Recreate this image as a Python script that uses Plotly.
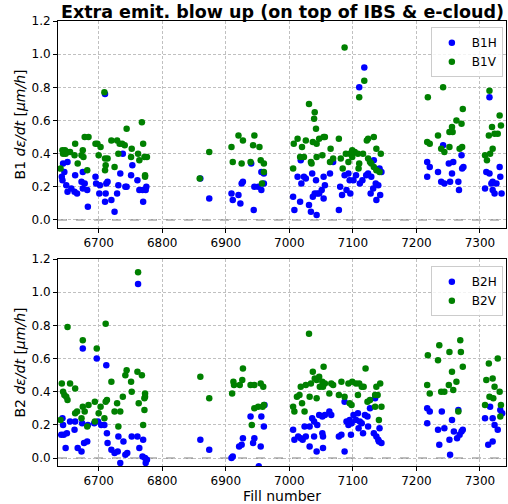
import plotly.graph_objects as go

# ---------------- data ----------------
b1h_fill = [6710,6738,6651,6644,6753,6646,6675,6734,6663,6642,6643,6695,6751,6761,6649,6657,6651,6662,6666,6673,
            6678,6675,6682,6696,6702,6712,6714,6731,6742,6744,6701,6711,6729,6764,6769,6774,6775,6720,6710,6770,
            6683,6725,6860,6874,6909,6911,6920,6923,6925,6927,6944,6940,6956,6960,6945,6951,6956,6960,
            7118,7110,7018,7069,7133,7145,7142,7013,7019,7023,7026,7036,7042,7054,7064,7056,7037,7040,7044,7047,
            7051,7054,7006,7017,7008,7031,7034,7043,7078,7080,7083,7087,7093,7095,7101,7105,7090,7096,7111,7115,
            7121,7124,7129,7128,7132,7136,7140,7137,7143,7217,7221,7217,7234,7239,7244,7242,7251,7256,7253,7258,
            7266,7267,7271,7272,7274,7315,7310,7315,7320,7318,7331,7332,7308,7320,7326,7334,7323]
b1h_val = [0.76,0.40,0.35,0.34,0.33,0.29,0.29,0.28,0.27,0.26,0.24,0.26,0.27,0.24,0.21,0.19,0.17,0.17,0.16,0.23,
           0.22,0.19,0.18,0.22,0.21,0.22,0.23,0.21,0.20,0.20,0.16,0.16,0.16,0.18,0.18,0.18,0.20,0.12,0.11,0.11,
           0.08,0.05,0.25,0.13,0.16,0.12,0.15,0.10,0.22,0.23,0.06,0.34,0.29,0.28,0.20,0.20,0.18,0.22,
           0.92,0.80,0.36,0.35,0.36,0.29,0.31,0.26,0.22,0.26,0.25,0.28,0.24,0.26,0.28,0.21,0.14,0.16,0.16,0.16,
           0.18,0.13,0.14,0.11,0.06,0.09,0.05,0.03,0.06,0.20,0.15,0.27,0.28,0.24,0.24,0.27,0.18,0.16,0.22,0.24,
           0.27,0.28,0.26,0.16,0.19,0.22,0.21,0.12,0.15,0.35,0.32,0.26,0.29,0.23,0.22,0.45,0.34,0.28,0.23,0.35,
           0.23,0.18,0.39,0.31,0.32,0.74,0.29,0.28,0.23,0.22,0.32,0.26,0.19,0.18,0.22,0.16,0.16]

b1v_fill = [6709,6768,6744,6678,6684,6663,6695,6698,6703,6720,6729,6733,6737,6741,6752,6770,6675,6643,6647,6651,
            6655,6644,6648,6662,6673,6676,6700,6731,6762,6751,6764,6772,6776,6710,6714,6711,6710,6725,6667,6640,
            6682,6773,6773,6859,6874,6909,6920,6927,6945,6943,6953,6911,6925,6939,6955,6960,6960,6957,
            7087,7118,7110,7031,7040,7039,7042,7007,7013,7020,7026,7037,7043,7047,7054,7056,7065,7078,
            7017,7023,7034,7043,7052,7064,7069,7081,7006,7035,7089,7095,7099,7103,7108,7116,
            7084,7093,7099,7110,7109,7122,7124,7133,7137,7144,7124,7127,7129,7133,7137,7142,
            7218,7242,7273,7263,7271,7256,7252,7257,7234,7217,7221,7239,7244,7252,7268,7272,
            7315,7331,7333,7319,7314,7323,7328,7320,7308,7316,7311]
b1v_val = [0.77,0.59,0.55,0.50,0.50,0.46,0.46,0.46,0.44,0.48,0.48,0.46,0.46,0.45,0.43,0.46,0.42,0.42,0.42,0.41,
           0.41,0.40,0.40,0.39,0.39,0.38,0.39,0.40,0.40,0.38,0.36,0.38,0.38,0.37,0.37,0.33,0.30,0.32,0.34,0.31,
           0.30,0.27,0.26,0.25,0.41,0.44,0.51,0.48,0.51,0.45,0.44,0.35,0.34,0.35,0.36,0.34,0.29,0.22,
           1.04,0.84,0.74,0.70,0.65,0.61,0.55,0.46,0.49,0.44,0.48,0.47,0.46,0.49,0.50,0.50,0.43,0.49,
           0.38,0.38,0.35,0.38,0.39,0.35,0.37,0.37,0.31,0.34,0.40,0.40,0.42,0.41,0.40,0.40,
           0.31,0.35,0.38,0.34,0.31,0.48,0.49,0.50,0.43,0.40,0.37,0.35,0.34,0.32,0.30,0.29,
           0.74,0.80,0.67,0.60,0.58,0.56,0.53,0.53,0.51,0.47,0.46,0.43,0.41,0.44,0.43,0.44,
           0.78,0.63,0.57,0.56,0.51,0.52,0.52,0.43,0.39,0.40,0.36]

b2h_fill = [6762,6675,6697,6712,6643,6644,6655,6663,6674,6683,6693,6699,6704,6709,6641,6645,6650,6662,6648,6667,
            6673,6677,6682,6713,6714,6731,6739,6752,6761,6770,6720,6725,6730,6734,6742,6745,6764,6769,6773,6776,
            6774,6860,6874,6909,6911,6921,6925,6927,6939,6943,6945,6956,6960,6961,6955,6952,
            7087,7135,7006,7008,7024,7032,7014,7018,7021,7026,7036,7039,7044,7047,7052,7056,7063,7066,7032,7043,
            7053,7039,7052,7053,7078,7082,7087,7090,7093,7095,7098,7101,7105,7108,7111,7114,7097,7109,7116,7119,
            7123,7124,7127,7133,7137,7140,7142,7145,7141,7217,7221,7217,7240,7244,7234,7236,7256,7252,7253,7259,
            7264,7268,7271,7273,7266,7308,7316,7320,7323,7328,7332,7335,7313,7320]
b2h_val = [1.05,0.66,0.60,0.56,0.24,0.20,0.22,0.22,0.21,0.20,0.21,0.22,0.20,0.20,0.14,0.14,0.15,0.17,0.06,0.06,
           0.04,0.09,0.10,0.15,0.09,0.13,0.10,0.13,0.13,0.11,0.05,0.03,0.04,-0.03,0.02,0.03,0.06,0.01,0.00,-0.01,
           -0.03,0.11,0.05,0.00,0.01,0.07,0.08,0.12,0.25,0.09,0.12,0.25,0.19,0.32,0.07,-0.05,
           0.34,0.36,0.17,0.11,0.19,0.19,0.13,0.12,0.11,0.13,0.24,0.22,0.20,0.26,0.25,0.26,0.28,0.26,0.07,0.04,
           0.06,0.13,0.15,0.13,0.13,0.14,0.04,0.22,0.20,0.23,0.21,0.26,0.23,0.27,0.22,0.21,0.14,0.18,0.15,0.26,
           0.25,0.19,0.30,0.15,0.13,0.11,0.18,0.09,0.10,0.30,0.28,0.21,0.28,0.18,0.17,0.08,0.23,0.11,0.02,0.16,
           0.12,0.14,0.16,0.17,0.29,0.24,0.31,0.24,0.20,0.17,0.29,0.27,0.08,0.10]

b2v_fill = [6762,6651,6711,6675,6697,6744,6742,6751,6761,6768,6720,6642,6655,6663,6644,6646,6649,6651,6752,6713,
            6711,6694,6738,6729,6763,6773,6773,6772,6772,6675,6684,6678,6666,6663,6703,6725,6734,6700,6673,6682,
            6709,6731,6770,6694,6640,6860,6874,6927,6912,6913,6910,6922,6926,6939,6945,6955,6959,6945,6951,6958,
            6960,6941,
            7031,7120,7054,7037,7040,7043,7047,7018,7026,7034,7052,7056,7048,7053,7066,7069,7082,7093,7099,7105,
            7110,7114,7117,7143,7137,7012,7016,7032,7043,7063,7078,7087,7108,7095,7098,7123,7127,7135,7139,7006,
            7008,7020,7024,7135,7145,7141,7218,7236,7252,7269,7270,7273,7234,7256,7217,7221,7239,7244,7258,7263,
            7251,7266,7328,7314,7310,7320,7323,7331,7315,7321,7308,7333,7332]
b2v_val = [1.12,0.79,0.81,0.71,0.66,0.53,0.50,0.46,0.52,0.50,0.46,0.45,0.45,0.42,0.40,0.38,0.37,0.35,0.40,0.35,
           0.34,0.34,0.37,0.33,0.33,0.37,0.39,0.36,0.29,0.31,0.32,0.28,0.28,0.27,0.31,0.28,0.28,0.27,0.24,0.19,
           0.24,0.19,0.20,0.22,0.23,0.49,0.36,0.54,0.46,0.44,0.39,0.44,0.47,0.44,0.44,0.45,0.43,0.30,0.31,0.31,
           0.32,0.20,
           0.75,0.54,0.55,0.52,0.48,0.47,0.49,0.43,0.44,0.45,0.46,0.45,0.43,0.43,0.45,0.44,0.46,0.45,0.46,0.45,
           0.45,0.43,0.43,0.45,0.43,0.37,0.38,0.37,0.36,0.39,0.38,0.37,0.38,0.33,0.32,0.34,0.35,0.38,0.38,0.31,
           0.28,0.33,0.28,0.31,0.31,0.23,0.62,0.68,0.64,0.71,0.64,0.55,0.59,0.52,0.44,0.39,0.40,0.40,0.41,0.46,
           0.44,0.28,0.60,0.57,0.47,0.48,0.43,0.40,0.37,0.36,0.32,0.32,0.25]

x_ticks = [6700, 6800, 6900, 7000, 7100, 7200, 7300]
y_ticks = [0.0, 0.2, 0.4, 0.6, 0.8, 1.0, 1.2]

title_text = "Extra emit. blow up (on top of IBS &amp; e-cloud)"
xlabel = "Fill number"
ylabel_top = "B1 <i>dε/dt</i> [<i>μm/h</i>]"
ylabel_bot = "B2 <i>dε/dt</i> [<i>μm/h</i>]"

# ---------------- figure ----------------
FONT = "DejaVu Sans"
BLUE = "#0000ff"
GREEN = "#008000"

fig = go.Figure()

def add(x, y, name, color, xa, ya, legend):
    fig.add_trace(go.Scatter(x=x, y=y, mode="markers", name=name,
                             marker=dict(color=color, size=6.5, line=dict(width=0)),
                             xaxis=xa, yaxis=ya, legend=legend))

add(b1h_fill, b1h_val, "B1H", BLUE, "x", "y", "legend")
add(b1v_fill, b1v_val, "B1V", GREEN, "x", "y", "legend")
add(b2h_fill, b2h_val, "B2H", BLUE, "x2", "y2", "legend2")
add(b2v_fill, b2v_val, "B2V", GREEN, "x2", "y2", "legend2")

xr = [6636, 7341]
yr = [-0.048, 1.2]

GRID = "#c0c0c0"
common_x = dict(range=xr, tickvals=x_ticks, showline=True, mirror=True, linecolor="black",
                linewidth=1, ticks="outside", ticklen=4, tickcolor="black", showgrid=True,
                gridcolor=GRID, griddash="3px,2px", gridwidth=0.8, zeroline=False,
                tickfont=dict(family=FONT, size=12, color="black"))
common_y = dict(range=yr, tickvals=y_ticks, tickformat=".1f", showline=True, mirror=True,
                linecolor="black", linewidth=1, ticks="outside", ticklen=4, tickcolor="black",
                showgrid=True, gridcolor=GRID, griddash="3px,2px", gridwidth=0.8, zeroline=False,
                tickfont=dict(family=FONT, size=12, color="black"))

top_dom = [0.535, 1.0]
bot_dom = [0.0, 0.465]

fig.update_layout(
    width=508, height=504,
    margin=dict(l=58, r=2, t=21, b=38),
    paper_bgcolor="white", plot_bgcolor="white",
    font=dict(family=FONT, size=12, color="black"),
    title=dict(text=title_text, x=0.556, xanchor="center", y=0.976, yanchor="middle",
               font=dict(family=FONT, size=17.5, color="black", weight="bold")),
    xaxis=dict(common_x, anchor="y"),
    yaxis=dict(common_y, domain=top_dom, anchor="x",
               title=dict(text=ylabel_top, font=dict(family=FONT, size=14), standoff=2)),
    xaxis2=dict(common_x, anchor="y2",
                title=dict(text=xlabel, font=dict(family=FONT, size=14), standoff=3)),
    yaxis2=dict(common_y, domain=bot_dom, anchor="x2",
                title=dict(text=ylabel_bot, font=dict(family=FONT, size=14), standoff=2)),
    legend=dict(x=0.993, y=0.986, xanchor="right", yanchor="top", bgcolor="rgba(255,255,255,0.8)",
                bordercolor="#cccccc", borderwidth=1, font=dict(family=FONT, size=12),
                itemwidth=30, tracegroupgap=0),
    legend2=dict(x=0.993, y=0.449, xanchor="right", yanchor="top", bgcolor="rgba(255,255,255,0.8)",
                 bordercolor="#cccccc", borderwidth=1, font=dict(family=FONT, size=12),
                 itemwidth=30, tracegroupgap=0),
    showlegend=True,
)

for xa, ya in (("x domain", "y"), ("x2 domain", "y2")):
    fig.add_shape(type="line", xref=xa, yref=ya, x0=0, x1=1, y0=0, y1=0,
                  line=dict(color="#808080", width=1.2, dash="dash"), layer="below")

fig.write_html("out.html", config={"displayModeBar": False},
               post_script="document.body.style.margin='0';document.body.style.overflow='hidden';")
